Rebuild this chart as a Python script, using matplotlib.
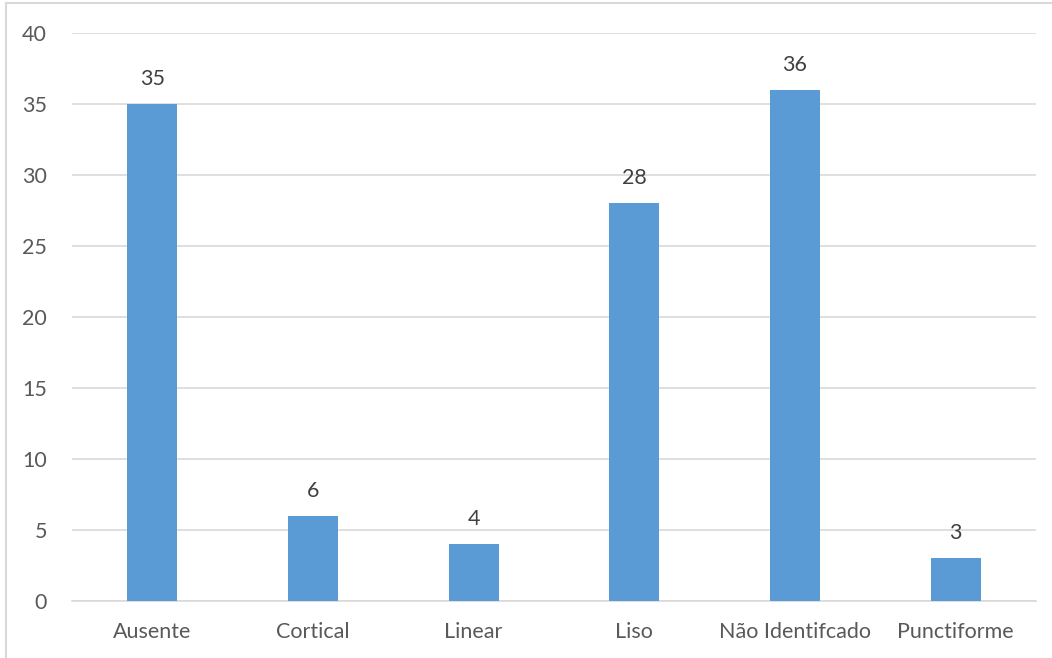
import matplotlib
matplotlib.use("Agg")
import matplotlib.pyplot as plt
from matplotlib.lines import Line2D

categories = ["Ausente", "Cortical", "Linear", "Liso", "Não Identifcado", "Punctiforme"]
values = [35, 6, 4, 28, 36, 3]
yticks = [0, 5, 10, 15, 20, 25, 30, 35, 40]

plt.rcParams['font.family'] = ['Lato', 'DejaVu Sans']
W, H = 1052, 658
fig = plt.figure(figsize=(W/100, H/100), dpi=100)
ax = fig.add_axes([72/W, 1-601/H, (1036-72)/W, (601-33)/H])

x = range(len(categories))
bars = ax.bar(x, values, width=0.31, color="#5B9BD5", zorder=3)
for xi, v in zip(x, values):
    ax.annotate(str(v), (xi, v), xytext=(0, 11), textcoords="offset points",
                ha="center", va="bottom", fontsize=15.5, color="#404040")

ax.set_xlim(-0.5, len(categories) - 0.5)
ax.set_ylim(0, 40)
ax.set_yticks(yticks)
ax.set_xticks(list(x))
ax.set_xticklabels(categories)
ax.tick_params(axis="both", length=0, labelsize=15.5, labelcolor="#595959")
ax.tick_params(axis="y", pad=18)
ax.tick_params(axis="x", pad=15)
ax.yaxis.grid(True, color="#D9D9D9", linewidth=1.2, zorder=0)
for s in ["top", "right", "left"]:
    ax.spines[s].set_visible(False)
ax.spines["bottom"].set_color("#D9D9D9")
ax.spines["bottom"].set_linewidth(1.2)

# outer chart border (partially cropped)
fig.add_artist(Line2D([6/W, 6/W], [0, 1-3/H], color="#D9D9D9", linewidth=1.5, transform=fig.transFigure))
fig.add_artist(Line2D([6/W, 1], [1-3/H, 1-3/H], color="#D9D9D9", linewidth=1.5, transform=fig.transFigure))

fig.savefig("out.png", dpi=100)
